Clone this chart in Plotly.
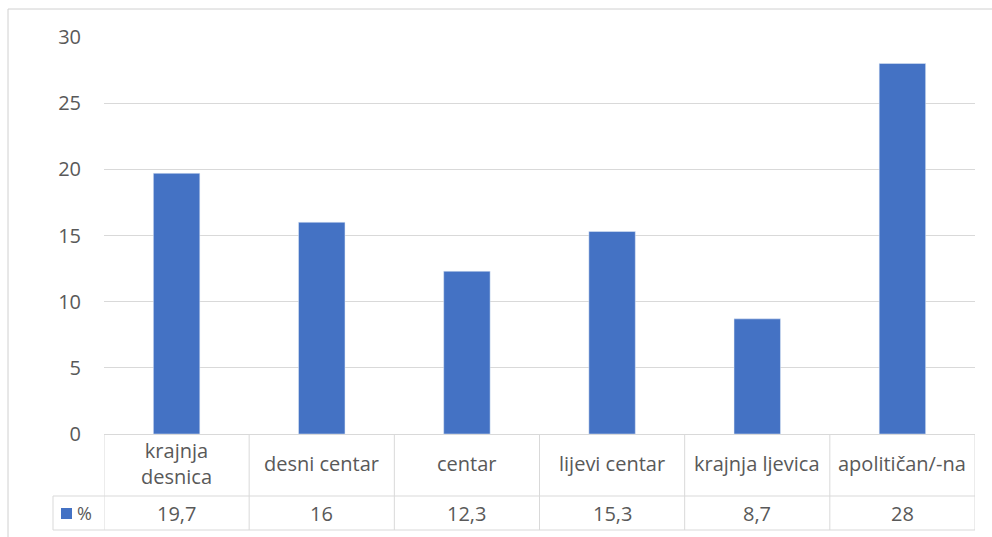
import plotly.graph_objects as go

categories = ["krajnja<br>desnica", "desni centar", "centar", "lijevi centar", "krajnja ljevica", "apolitičan/-na"]
values = [19.7, 16, 12.3, 15.3, 8.7, 28]
value_labels = ["19,7", "16", "12,3", "15,3", "8,7", "28"]
series_name = "%"
y_ticks = [0, 5, 10, 15, 20, 25, 30]

BAR = "#4472C4"
GRID = "#d9d9d9"
TXT = "#595959"
FONT = "Open Sans"
FS = 20

W, H = 992, 537
L, R, T, B = 104, 17, 37, 103
pw, ph = W - L - R, H - T - B

def px(x):
    return (x - L) / pw

def py(y):
    return (H - B - y) / ph

xs = list(range(len(categories)))

fig = go.Figure()
fig.add_trace(go.Bar(x=xs, y=values, marker_color=BAR, width=0.32, showlegend=False,
                     hoverinfo="skip"))

shapes = []
line = dict(color=GRID, width=1)
# outer frame (left + top)
shapes.append(dict(type="rect", xref="paper", yref="paper", x0=px(8), x1=px(1005),
                   y0=py(9), y1=py(560), line=dict(color="#d0d0d0", width=1), layer="below"))
# table horizontal lines
row1 = py(496)
row2 = py(530)
shapes.append(dict(type="line", xref="paper", yref="paper", x0=px(53), x1=1, y0=row1, y1=row1, line=line))
shapes.append(dict(type="line", xref="paper", yref="paper", x0=px(53), x1=1, y0=row2, y1=row2, line=line))
# vertical lines at column boundaries
for i in range(len(categories) + 1):
    shapes.append(dict(type="line", xref="x", yref="paper", x0=i - 0.5, x1=i - 0.5,
                       y0=0, y1=row2, line=line))
shapes.append(dict(type="line", xref="paper", yref="paper", x0=px(53), x1=px(53),
                   y0=row1, y1=row2, line=line))
# legend key square
shapes.append(dict(type="rect", xref="paper", yref="paper", x0=px(61), x1=px(72),
                   y0=py(519), y1=py(508), fillcolor=BAR, line=dict(width=0)))

annotations = []
for i, (c, v) in enumerate(zip(categories, value_labels)):
    annotations.append(dict(x=i, y=py(464), xref="x", yref="paper", text=c, showarrow=False,
                            font=dict(family=FONT, size=FS, color=TXT), align="center",
                            yanchor="middle"))
    annotations.append(dict(x=i, y=py(513), xref="x", yref="paper", text=v, showarrow=False,
                            font=dict(family=FONT, size=FS, color=TXT), yanchor="middle"))
annotations.append(dict(x=px(75), y=py(513), xref="paper", yref="paper", text=series_name,
                        showarrow=False, xanchor="left", yanchor="middle",
                        font=dict(family=FONT, size=FS - 2, color=TXT)))

fig.update_layout(
    width=W, height=H, autosize=False,
    margin=dict(l=L, r=R, t=T, b=B),
    paper_bgcolor="white", plot_bgcolor="white",
    shapes=shapes, annotations=annotations,
    xaxis=dict(range=[-0.5, len(categories) - 0.5], showticklabels=False, showgrid=False,
               zeroline=False, showline=False, ticks=""),
    yaxis=dict(range=[0, 30], tickvals=y_ticks, showgrid=True, gridcolor=GRID, gridwidth=1,
               zeroline=True, zerolinecolor=GRID, zerolinewidth=1, showline=False,
               tickfont=dict(family=FONT, size=FS, color=TXT), ticklabelstandoff=22),
    font=dict(family=FONT, color=TXT),
)

fig.write_html("out.html", config={"displayModeBar": False},
               post_script="document.body.style.margin='0';document.body.style.overflow='hidden';")
